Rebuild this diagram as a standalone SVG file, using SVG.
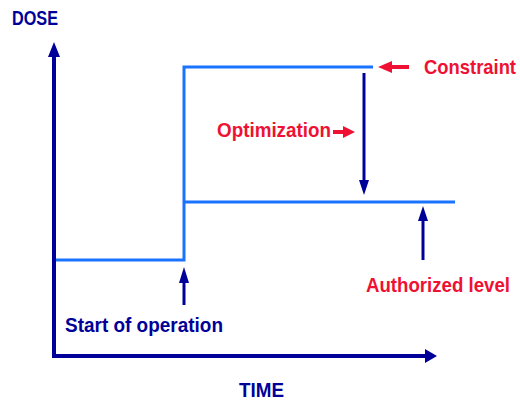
<svg xmlns="http://www.w3.org/2000/svg" width="520" height="407" viewBox="0 0 520 407">
<style>
.t{font-family:"Liberation Sans Narrow","Liberation Sans",Arial,sans-serif;font-weight:bold;font-size:21px}
.nv{fill:#000099}
.rd{fill:#ee1133}
.ax{stroke:#000099;stroke-width:4;fill:none}
.nl{stroke:#000099;stroke-width:3;fill:none}
.bl{stroke:#1a73ff;stroke-width:3;fill:none}
.rl{stroke:#ee1133;stroke-width:4;fill:none}
</style>
<rect width="520" height="407" fill="#ffffff"/>
<g id="axes">
<path class="ax" d="M54,56 V356 H426"/>
<polygon class="nv" points="54,42 48,57 60,57"/>
<polygon class="nv" points="437,356 425,349 425,363"/>
<text class="t nv" x="12" y="25" textLength="46" lengthAdjust="spacingAndGlyphs">DOSE</text>
<text class="t nv" x="239" y="397" textLength="45" lengthAdjust="spacingAndGlyphs">TIME</text>
</g>
<g id="dose-curve">
<path class="bl" d="M56,260 H184 V67 H373"/>
<path class="bl" d="M184,202 H455"/>
</g>
<g id="connectors">
<path class="nl" d="M364,73 V182"/>
<polygon class="nv" points="364,195 359,180 369,180"/>
<path class="nl" d="M184,281 V305"/>
<polygon class="nv" points="184,267 179,283 189,283"/>
<path class="nl" d="M423,219 V260"/>
<polygon class="nv" points="423,206 418,221 428,221"/>
<path class="rl" d="M390,67 H409"/>
<polygon class="rd" points="378,67 392,61 392,73"/>
<path class="rl" d="M333,132 H344"/>
<polygon class="rd" points="355,132 343,126 343,138"/>
</g>
<g id="constraint"><text class="t rd" x="424" y="74" textLength="92" lengthAdjust="spacingAndGlyphs">Constraint</text></g>
<g id="optimization"><text class="t rd" x="217" y="137" textLength="114" lengthAdjust="spacingAndGlyphs">Optimization</text></g>
<g id="authorized"><text class="t rd" x="366" y="292" textLength="144" lengthAdjust="spacingAndGlyphs">Authorized level</text></g>
<g id="start"><text class="t nv" x="65" y="332" textLength="158" lengthAdjust="spacingAndGlyphs">Start of operation</text></g>
</svg>
